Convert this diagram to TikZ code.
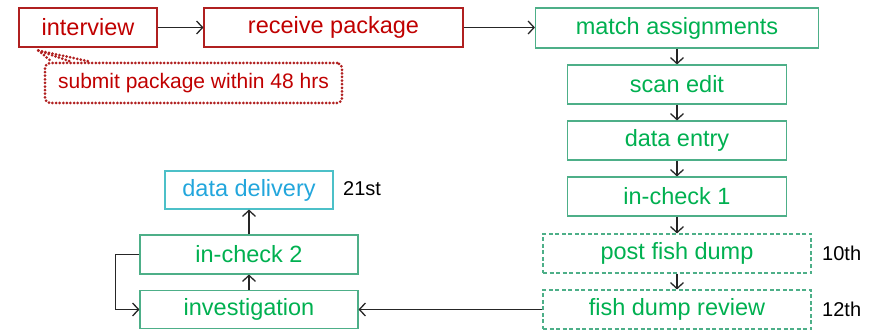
\documentclass[tikz,border=0pt]{standalone}
\usepackage{fontspec}
\setmainfont{Liberation Sans}
\usetikzlibrary{arrows.meta,calc}
\definecolor{rtext}{HTML}{C00000}
\definecolor{rline}{HTML}{B02020}
\definecolor{gtext}{HTML}{00B050}
\definecolor{gline}{HTML}{4DAF88}
\definecolor{btext}{HTML}{22A6DC}
\definecolor{bline}{HTML}{4CC0C8}
\tikzset{
  base/.style={draw, line width=1.1pt, inner sep=0pt, anchor=center,
    font=\fontsize{23.5}{28}\selectfont},
  redbox/.style={base, draw=rline, text=rtext},
  greenbox/.style={base, draw=gline, text=gtext},
  dashbox/.style={greenbox, dash pattern=on 4pt off 2.5pt},
  bluebox/.style={base, draw=bline, text=btext},
  lbl/.style={anchor=west, inner sep=0pt, font=\fontsize{20}{24}\selectfont},
  conn/.style={draw=black!85, line width=1.3pt, -{Straight Barb[length=6pt,width=13pt,line width=1.3pt]}},
  calloutline/.style={draw=rline, line width=3pt, line cap=round, dash pattern=on 0pt off 3.6pt}
}
\begin{document}
\begin{tikzpicture}[x=1pt,y=-1pt]
\useasboundingbox (0,0) rectangle (876,331);
\node[redbox, minimum width=138, minimum height=39] (interview) at (88,27.5) {interview};
\node[redbox, minimum width=259, minimum height=39] (receive) at (333.5,27.5) {receive package};
\node[greenbox, minimum width=283, minimum height=40] (match) at (677,28) {match assignments};
\node[greenbox, minimum width=219, minimum height=39] (scan) at (677,84.5) {scan edit};
\node[greenbox, minimum width=219, minimum height=39] (entry) at (677,140.5) {data entry};
\node[greenbox, minimum width=219, minimum height=39] (ic1) at (677,196.5) {in-check 1};
\node[dashbox, minimum width=268, minimum height=39] (pfd) at (677,253.5) {post fish dump};
\node[dashbox, minimum width=268, minimum height=39] (fdr) at (677,309.5) {fish dump review};
\node[greenbox, minimum width=218, minimum height=38] (inv) at (249,309.5) {investigation};
\node[greenbox, minimum width=218, minimum height=39] (ic2) at (249,254.5) {in-check 2};
\node[bluebox, minimum width=168, minimum height=38] (deliv) at (249,190) {data delivery};
\node[lbl] (l10) at (822,253) {10th};
\node[lbl] (l12) at (822,309) {12th};
\node[lbl] (l21) at (343,189) {21st};
% callout
\node[calloutline, rounded corners=5pt, minimum width=297, minimum height=40, inner sep=0pt,
  text=rtext, font=\fontsize{21}{25}\selectfont] (callout) at (193.5,83) {submit package within 48 hrs};
\coordinate (ptr) at ($(interview.south west)+(20,3)$);
\draw[calloutline] (ptr) -- ($(callout.north west)+(46,0)$);
\draw[calloutline] (ptr) -- ($(callout.north west)+(8,0)$);
\draw[calloutline] (ptr) -- ($(callout.north west)+(27,0)$);
% connectors
\draw[conn] (interview) -- (receive);
\draw[conn] (receive.east) -- (receive.east -| match.west);
\draw[conn] (match) -- (scan);
\draw[conn] (scan) -- (entry);
\draw[conn] (entry) -- (ic1);
\draw[conn] (ic1) -- (pfd);
\draw[conn] (pfd) -- (fdr);
\draw[conn] (fdr) -- (inv);
\draw[conn] (inv) -- (ic2);
\draw[conn] (ic2) -- (deliv);
\draw[conn] (ic2.west) -- ++(-24,0) |- (inv.west);
\end{tikzpicture}
\end{document}
